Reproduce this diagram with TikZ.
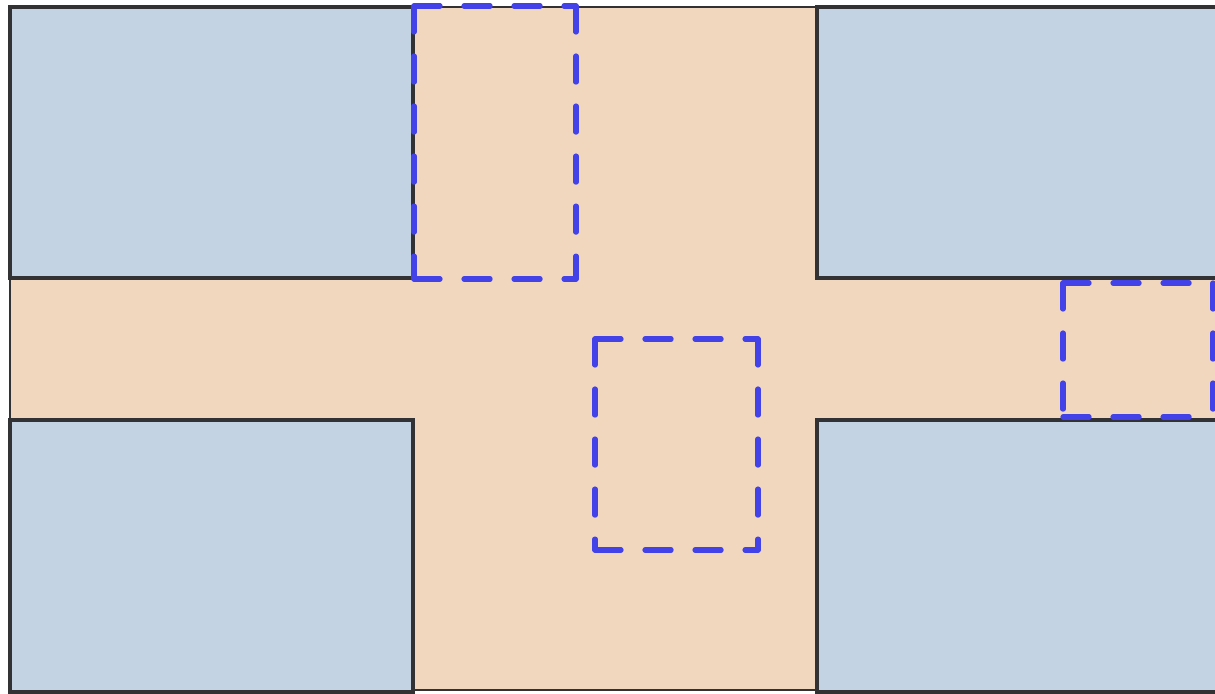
\documentclass[tikz,border=0pt]{standalone}
\usepackage{tikz}
\definecolor{roadtan}{RGB}{242,215,191}
\definecolor{blockblue}{RGB}{195,211,228}
\definecolor{edgedark}{RGB}{50,50,52}
\definecolor{zoneblue}{RGB}{66,66,232}
\tikzset{
  road/.style={fill=roadtan, draw=edgedark, line width=0.5pt},
  block/.style={fill=blockblue, draw=edgedark, line width=0.9pt},
  zone/.style={draw=zoneblue, line width=1.5pt, line cap=round,
    dash pattern=on 0.26cm off 0.24cm}
}
% dashed zone, each side dashed from its own corner
\newcommand{\zonebox}[4]{%
  \draw[zone] (#1,#2) -- (#3,#2);
  \draw[zone] (#3,#2) -- (#3,#4);
  \draw[zone] (#1,#2) -- (#1,#4);
  \draw[zone] (#1,#4) -- (#3,#4);
}
\begin{document}
\begin{tikzpicture}[x=0.01cm, y=-0.01cm]
  \path[use as bounding box, clip] (0,0) rectangle (1215,694);
  \fill[white] (0,0) rectangle (1215,694);

  % road surface
  \draw[road] (10,7) rectangle (1240,690);

  % corner blocks
  \draw[block] (10,7) rectangle (413,278);
  \draw[block] (817,7) rectangle (1240,278);
  \draw[block] (10,420) rectangle (413,692);
  \draw[block] (817,420) rectangle (1240,692);

  % dashed zones
  \zonebox{414}{6}{576}{279}
  \zonebox{595}{339}{758}{550}
  \zonebox{1063}{283}{1213}{417}
\end{tikzpicture}
\end{document}
